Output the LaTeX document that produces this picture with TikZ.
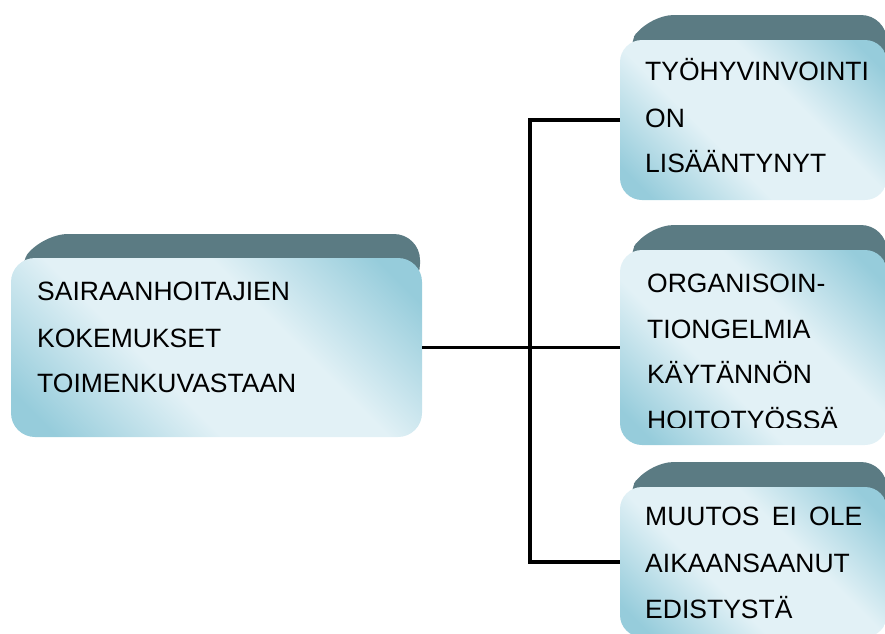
\documentclass[tikz,border=0pt]{standalone}
\usepackage{fontspec}
\setmainfont{Liberation Sans}
\definecolor{boxdark}{HTML}{96CCDB}
\definecolor{boxlight}{HTML}{E2F1F6}
\definecolor{tabc}{HTML}{5B7B83}
\pgfdeclareverticalshading{facesh}{100bp}{color(0bp)=(boxdark); color(20bp)=(boxdark); color(40bp)=(boxlight); color(60bp)=(boxlight); color(80bp)=(boxdark); color(100bp)=(boxdark)}
\begin{document}
\begin{tikzpicture}[x=1pt,y=-1pt,
  face/.style={rectangle, rounded corners=24pt, shading=facesh, shading angle=-45, inner sep=0pt, outer sep=0pt, anchor=north west},
  tabface/.style={fill=tabc, rounded corners=26pt},
  lbl/.style={anchor=base west, inner sep=0pt, font=\fontsize{26.5}{30}\selectfont},
  conn/.style={line width=3.5pt, black}]
\useasboundingbox (0,0) rectangle (885,633);
\clip (0,0) rectangle (885,633);
% top faces (tabs)
\path[tabface] (13,274) -- (42,234) -- (420,234) -- (420,290) -- cycle;
\path[tabface] (622,55) -- (648,15) -- (887,15) -- (887,70) -- cycle;
\path[tabface] (622,265) -- (648,225) -- (887,225) -- (887,280) -- cycle;
\path[tabface] (622,502) -- (648,462) -- (887,462) -- (887,517) -- cycle;
% front faces
\node[face, minimum width=411pt, minimum height=179pt] (main) at (11,258) {};
\node[face, rounded corners=22pt, minimum width=267pt, minimum height=160pt] (b1) at (620,40) {};
\node[face, rounded corners=22pt, minimum width=267pt, minimum height=195pt] (b2) at (620,250) {};
\node[face, rounded corners=22pt, minimum width=267pt, minimum height=150pt] (b3) at (620,487) {};
% texts
\node[lbl] (m1) at (37,300) {SAIRAANHOITAJIEN};
\node[lbl] (m2) at (37,347) {KOKEMUKSET};
\node[lbl] (m3) at (37,392) {TOIMENKUVASTAAN};
\node[lbl] (t1) at (645,80) {TYÖHYVINVOINTI};
\node[lbl] (t2) at (645,127) {ON};
\node[lbl] (t3) at (645,172) {LISÄÄNTYNYT};
\node[lbl] (o1) at (647,292) {ORGANISOIN-};
\node[lbl] (o2) at (647,338) {TIONGELMIA};
\node[lbl] (o3) at (647,383) {KÄYTÄNNÖN};
\begin{scope}
\clip (600,350) rectangle (885,427);
\node[lbl] (o4) at (647,429) {HOITOTYÖSSÄ};
\end{scope}
\node[lbl] (u1) at (645,525) {\makebox[217pt][s]{MUUTOS EI OLE}};
\node[lbl] (u2) at (645,572) {AIKAANSAANUT};
\node[lbl] (u3) at (645,618) {EDISTYSTÄ};
% connectors
\coordinate (jx) at (530,0);
\draw[conn] (main.east) -- (b2.west);
\draw[conn] (b1.west) -- (b1.west -| jx) |- (b3.west);
\end{tikzpicture}
\end{document}
